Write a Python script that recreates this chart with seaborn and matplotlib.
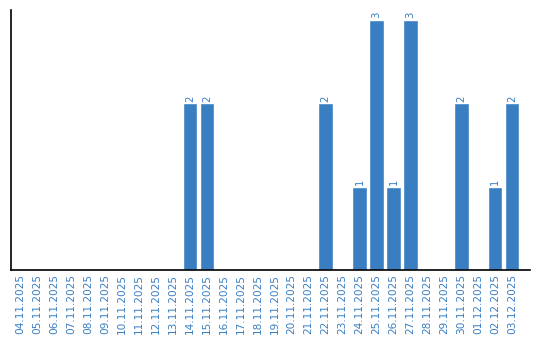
import matplotlib
matplotlib.use("Agg")
import matplotlib.pyplot as plt
import seaborn as sns
import pandas as pd

dates = ["04.11.2025", "05.11.2025", "06.11.2025", "07.11.2025", "08.11.2025",
         "09.11.2025", "10.11.2025", "11.11.2025", "12.11.2025", "13.11.2025",
         "14.11.2025", "15.11.2025", "16.11.2025", "17.11.2025", "18.11.2025",
         "19.11.2025", "20.11.2025", "21.11.2025", "22.11.2025", "23.11.2025",
         "24.11.2025", "25.11.2025", "26.11.2025", "27.11.2025", "28.11.2025",
         "29.11.2025", "30.11.2025", "01.12.2025", "02.12.2025", "03.12.2025"]
counts = [0, 0, 0, 0, 0, 0, 0, 0, 0, 0,
          2, 2, 0, 0, 0, 0, 0, 0, 2, 0,
          1, 3, 1, 3, 0, 0, 2, 0, 1, 2]

BLUE = "#3a7ec2"
sns.set_theme(style="white")
plt.rcParams['font.family'] = ['DejaVu Sans']

df = pd.DataFrame({"date": dates, "count": counts})
fig = plt.figure(figsize=(5.4, 3.4), dpi=100)
ax = fig.add_axes([11/540, 70/340, (530-11)/540, 260/340])
sns.barplot(data=df, x="date", y="count", color=BLUE, saturation=1, width=0.85, ax=ax)
for p, v in zip(ax.patches, counts):
    if v > 0:
        ax.text(p.get_x() + p.get_width()/2, p.get_height() + 0.02, str(v),
                rotation=90, ha="center", va="bottom", color=BLUE, fontsize=7.3)
ax.set_xlim(-0.55, 30.05)
ax.set_ylim(0, 3.12)
ax.set_xlabel("")
ax.set_ylabel("")
ax.set_yticks([])
ax.tick_params(axis="x", length=0, pad=3, labelsize=7.6, labelcolor=BLUE)
plt.setp(ax.get_xticklabels(), rotation=90)
for s in ["top", "right"]:
    ax.spines[s].set_visible(False)
for s in ["left", "bottom"]:
    ax.spines[s].set_color("black")
    ax.spines[s].set_linewidth(1.2)
fig.savefig("out.png", dpi=100)
